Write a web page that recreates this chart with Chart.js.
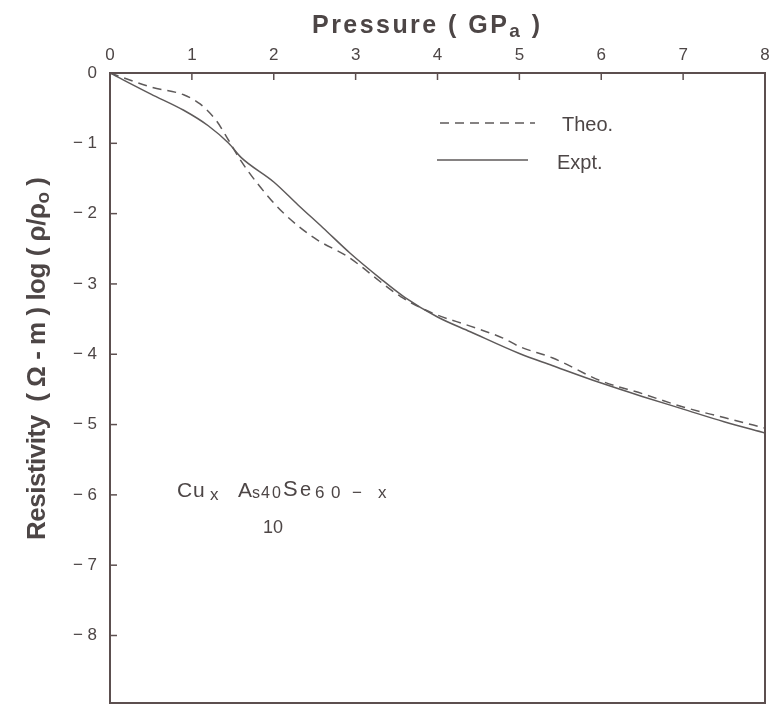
<!DOCTYPE html>
<html><head><meta charset="utf-8">
<script src="https://cdn.jsdelivr.net/npm/chart.js@4/dist/chart.umd.min.js"></script>
<style>html,body{margin:0;padding:0;background:#fff;overflow:hidden}canvas{display:block}</style>
</head><body><canvas id="c" width="771" height="704" style="width:771px;height:704px"></canvas>
<script>
// ---- data ----
const xTicks = [0, 1, 2, 3, 4, 5, 6, 7, 8];
const yTicks = [0, -1, -2, -3, -4, -5, -6, -7, -8];
const theoP = [0, 0.5, 0.9, 1.1, 1.3, 1.45, 1.6, 1.8, 2.1, 2.5, 2.9, 3.55, 3.95, 4.4, 4.8, 5.0, 5.4, 6.0, 6.5, 7.0, 7.5, 8.0];
const theoR = [0, -0.2, -0.31, -0.44, -0.68, -0.96, -1.25, -1.57, -1.97, -2.35, -2.61, -3.18, -3.42, -3.6, -3.77, -3.89, -4.05, -4.38, -4.56, -4.75, -4.9, -5.05];
const exptP = [0, 0.5, 0.9, 1.2, 1.45, 1.6, 2.0, 2.3, 2.6, 2.93, 3.3, 3.6, 4.0, 4.4, 5.0, 5.4, 6.0, 6.5, 7.0, 7.5, 8.0];
const exptR = [0, -0.3, -0.53, -0.75, -1.0, -1.2, -1.55, -1.88, -2.2, -2.56, -2.92, -3.19, -3.47, -3.68, -3.99, -4.16, -4.41, -4.6, -4.78, -4.96, -5.12];
const seriesNames = ['Theo.', 'Expt.'];

const INK = '#4d4646';
const LINE = '#5e5a5a';
const AXIS = '#5c4f4f';
const FAM = '"Liberation Sans", Arial, sans-serif';

function drawRich(ctx, segs, x0, y0, target, weight, size, subSize, subDy) {
  const chars = [];
  segs.forEach(s => { for (const ch of s.t) chars.push({ ch, sub: !!s.sub }); });
  let sum = 0;
  chars.forEach(c => {
    ctx.font = `${weight} ${c.sub ? subSize : size}px ${FAM}`;
    c.w = ctx.measureText(c.ch).width; sum += c.w;
  });
  const ls = target ? (target - sum) / (chars.length - 1) : 0;
  let x = x0;
  chars.forEach(c => {
    ctx.font = `${weight} ${c.sub ? subSize : size}px ${FAM}`;
    ctx.fillText(c.ch, x, y0 + (c.sub ? subDy : 0));
    x += c.w + ls;
  });
}

const deco = {
  id: 'deco',
  afterDraw(chart) {
    const { ctx, chartArea: a, scales } = chart;
    const xs = scales.x, ys = scales.y;
    ctx.save();
    // frame
    ctx.strokeStyle = AXIS; ctx.lineWidth = 2;
    ctx.strokeRect(a.left, a.top, a.right - a.left, a.bottom - a.top);
    // inward ticks
    ctx.lineWidth = 1.5;
    xTicks.forEach(v => {
      if (v === 0 || v === 8) return;
      const px = xs.getPixelForValue(v);
      ctx.beginPath(); ctx.moveTo(px, a.top); ctx.lineTo(px, a.top + 7); ctx.stroke();
    });
    yTicks.forEach(v => {
      if (v === 0) return;
      const py = ys.getPixelForValue(v);
      ctx.beginPath(); ctx.moveTo(a.left, py); ctx.lineTo(a.left + 7, py); ctx.stroke();
    });
    // legend
    const ds = chart.data.datasets;
    const leg = [
      { x1: 440, x2: 535, y: 123, tx: 562, ty: 131, d: ds[0] },
      { x1: 437, x2: 528, y: 160, tx: 557, ty: 169, d: ds[1] }
    ];
    leg.forEach(l => {
      ctx.strokeStyle = l.d.borderColor; ctx.lineWidth = 1.4;
      ctx.setLineDash(l.d.borderDash || []);
      ctx.beginPath(); ctx.moveTo(l.x1, l.y); ctx.lineTo(l.x2, l.y); ctx.stroke();
      ctx.setLineDash([]);
      ctx.fillStyle = INK; ctx.font = `20px ${FAM}`; ctx.textBaseline = 'alphabetic';
      ctx.fillText(l.d.label, l.tx, l.ty);
    });
    // composition annotation
    ctx.fillStyle = INK; ctx.textBaseline = 'alphabetic';
    const comp = [
      { t: 'C', x: 177, dy: 0, s: 21 }, { t: 'u', x: 193, dy: 0, s: 21 },
      { t: 'x', x: 210, dy: 3, s: 17 },
      { t: 'A', x: 238, dy: 0, s: 21 }, { t: 's', x: 252, dy: 1, s: 16 },
      { t: '4', x: 261, dy: 1, s: 16 }, { t: '0', x: 272, dy: 1, s: 16 },
      { t: 'S', x: 283, dy: -1, s: 22 }, { t: 'e', x: 300, dy: -1, s: 20 },
      { t: '6', x: 315, dy: 1, s: 17 }, { t: '0', x: 331, dy: 1, s: 17 },
      { t: '−', x: 352, dy: 1, s: 17 }, { t: 'x', x: 378, dy: 1, s: 17 }
    ];
    comp.forEach(c => { ctx.font = `${c.s}px ${FAM}`; ctx.fillText(c.t, c.x, 497 + c.dy); });
    ctx.font = `18px ${FAM}`; ctx.fillText('10', 263, 533);
    // x title
    ctx.fillStyle = INK;
    drawRich(ctx, [{ t: 'Pressure ( GP' }, { t: 'a', sub: 1 }, { t: ' )' }], 312, 33, 228, 'bold', 25, 19, 4);
    // y title
    ctx.translate(45, 540); ctx.rotate(-Math.PI / 2);
    drawRich(ctx, [{ t: 'Resistivity  ( Ω - m ) log ( ρ/ρ' }, { t: 'o', sub: 1 }, { t: ' )' }], 0, 0, 363, 'bold', 26, 19, 4);
    ctx.restore();
  }
};

new Chart(document.getElementById('c'), {
  type: 'line',
  data: {
    datasets: [
      { label: seriesNames[0], data: theoP.map((p, i) => ({ x: p, y: theoR[i] })), borderColor: LINE, borderWidth: 1.5, borderDash: [9, 6], pointRadius: 0, cubicInterpolationMode: 'monotone', fill: false },
      { label: seriesNames[1], data: exptP.map((p, i) => ({ x: p, y: exptR[i] })), borderColor: LINE, borderWidth: 1.5, pointRadius: 0, cubicInterpolationMode: 'monotone', fill: false }
    ]
  },
  options: {
    responsive: false, maintainAspectRatio: false, animation: false, devicePixelRatio: 1,
    layout: { autoPadding: false, padding: { left: 0, right: 6, top: 0, bottom: 1 } },
    plugins: { legend: { display: false }, tooltip: { enabled: false } },
    scales: {
      x: {
        type: 'linear', position: 'top', min: 0, max: 8,
        afterBuildTicks: ax => { ax.ticks = xTicks.map(v => ({ value: v })); },
        afterFit: ax => { ax.height = 73; ax.paddingLeft = 0; ax.paddingRight = 0; },
        grid: { display: false, drawTicks: false }, border: { display: false },
        ticks: { color: INK, font: { family: FAM, size: 17 }, padding: 7, maxRotation: 0, autoSkip: false, callback: v => String(v) }
      },
      y: {
        type: 'linear', min: -8.96, max: 0,
        afterBuildTicks: ax => { ax.ticks = yTicks.map(v => ({ value: v })); },
        afterFit: ax => { ax.width = 110; ax.paddingTop = 0; ax.paddingBottom = 0; },
        grid: { display: false, drawTicks: false }, border: { display: false },
        ticks: { color: INK, font: { family: FAM, size: 17 }, padding: 13, autoSkip: false, callback: v => v === 0 ? '0' : '− ' + Math.abs(v) }
      }
    }
  },
  plugins: [deco]
});
</script>
</body></html>
